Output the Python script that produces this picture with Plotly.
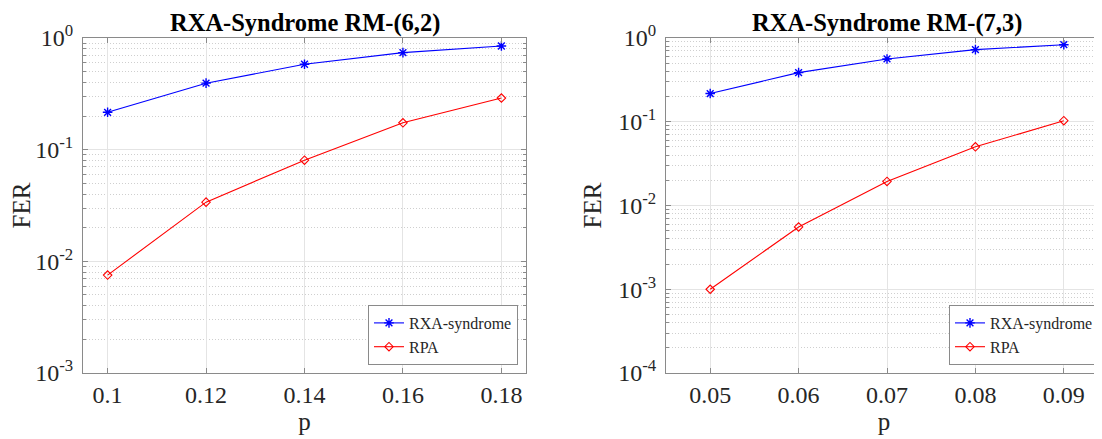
import plotly.graph_objects as go

# ---- data ----
p_left = [0.10, 0.12, 0.14, 0.16, 0.18]
rxa_left = [0.216, 0.394, 0.582, 0.739, 0.848]
rpa_left = [0.00753, 0.0339, 0.0805, 0.174, 0.290]

p_right = [0.05, 0.06, 0.07, 0.08, 0.09]
rxa_right = [0.217, 0.386, 0.562, 0.726, 0.832]
rpa_right = [0.001, 0.00554, 0.0194, 0.0502, 0.103]

title_left = "RXA-Syndrome RM-(6,2)"
title_right = "RXA-Syndrome RM-(7,3)"
series_names = ["RXA-syndrome", "RPA"]
x_title = "p"
y_title = "FER"

ytick_left = [1e-3, 1e-2, 1e-1, 1]
ytick_left_text = ["10<sup>-3</sup>", "10<sup>-2</sup>", "10<sup>-1</sup>", "10<sup>0</sup>"]
ytick_right = [1e-4, 1e-3, 1e-2, 1e-1, 1]
ytick_right_text = ["10<sup>-4</sup>", "10<sup>-3</sup>", "10<sup>-2</sup>", "10<sup>-1</sup>", "10<sup>0</sup>"]

# ---- style ----
OFF = 8                      # page body margin
W, H = 1102 - OFF, 439 - OFF
FONT = "Liberation Serif, Times New Roman, serif"
BLUE = "#0000ff"
RED = "#ff0000"
AXC = "#8a8a8a"
TXT = "#262626"
GRID = "#e4e4e4"
MINOR = "#cfcfcf"


def px(x):
    return (x - OFF) / W


def py(y):
    return 1 - (y - OFF) / H


fig = go.Figure()

for (xs, y1, y2, xa, ya, lg) in [
    (p_left, rxa_left, rpa_left, "x", "y", "legend"),
    (p_right, rxa_right, rpa_right, "x2", "y2", "legend2"),
]:
    fig.add_trace(go.Scatter(
        x=xs, y=y1, mode="lines+markers", name=series_names[0],
        line=dict(color=BLUE, width=1.1),
        marker=dict(symbol="asterisk-open", size=8, color=BLUE,
                    line=dict(color=BLUE, width=1.4)),
        xaxis=xa, yaxis=ya, legend=lg))
    fig.add_trace(go.Scatter(
        x=xs, y=y2, mode="lines+markers", name=series_names[1],
        line=dict(color=RED, width=1.1),
        marker=dict(symbol="diamond-open", size=6.5, color=RED,
                    line=dict(color=RED, width=1.1)),
        xaxis=xa, yaxis=ya, legend=lg))


def minor_vals(lo, hi):
    return [m * 10.0 ** k for k in range(lo, hi) for m in range(2, 10)]


tickfont = dict(family=FONT, size=24, color=TXT)
xcommon = dict(
    ticks="inside", ticklen=5, tickcolor=AXC, showline=True, linecolor=AXC,
    linewidth=1, mirror="ticks", showgrid=True, gridcolor=GRID, gridwidth=1,
    zeroline=False, tickfont=tickfont, automargin=False,
    title=dict(text=x_title, font=dict(family=FONT, size=25, color=TXT), standoff=4),
)
ycommon = dict(
    type="log", ticks="inside", ticklen=5, tickcolor=AXC, showline=True,
    linecolor=AXC, linewidth=1, showgrid=True, gridcolor=GRID, gridwidth=1,
    zeroline=False, tickfont=tickfont, ticklabelstandoff=4, automargin=False,
)

legend_style = dict(bgcolor="white", bordercolor=AXC, borderwidth=1,
                    font=dict(family=FONT, size=16, color=TXT),
                    itemwidth=30, tracegroupgap=0,
                    xanchor="right", yanchor="bottom")

fig.update_layout(
    template="none",
    width=W, height=H,
    margin=dict(l=0, r=0, t=0, b=0, autoexpand=False),
    paper_bgcolor="white", plot_bgcolor="white",
    font=dict(family=FONT, color=TXT),
    xaxis=dict(domain=[px(83), px(526)], anchor="y", range=[0.095, 0.185],
               tickvals=p_left, **xcommon),
    yaxis=dict(domain=[py(373), py(38)], anchor="x", range=[-3, 0],
               tickvals=ytick_left, ticktext=ytick_left_text, mirror="ticks",
               title=dict(text=y_title, font=dict(family=FONT, size=25, color=TXT),
                          standoff=18),
               minor=dict(tickvals=minor_vals(-3, 0), ticks="inside", ticklen=3,
                          tickcolor=AXC, showgrid=True, gridcolor=MINOR,
                          griddash="1px,2px", gridwidth=1),
               **ycommon),
    xaxis2=dict(domain=[px(666), 1.0], anchor="y2", range=[0.045, 0.09432],
                tickvals=p_right, **xcommon),
    yaxis2=dict(domain=[py(373), py(38)], anchor="x2", range=[-4, 0],
                tickvals=ytick_right, ticktext=ytick_right_text, mirror=False,
                title=dict(text=y_title, font=dict(family=FONT, size=25, color=TXT),
                           standoff=9),
                minor=dict(tickvals=minor_vals(-4, 0), ticks="inside", ticklen=3,
                           tickcolor=AXC, showgrid=True, gridcolor=MINOR,
                           griddash="1px,2px", gridwidth=1),
                **ycommon),
    legend=dict(x=px(518), y=py(365), **legend_style),
    legend2=dict(x=px(1099), y=py(365), **legend_style),
    annotations=[
        dict(text="<b>" + title_left + "</b>", x=px(304.5), y=py(23),
             xref="paper", yref="paper", xanchor="center", yanchor="middle",
             showarrow=False, font=dict(family=FONT, size=24.5, color="black")),
        dict(text="<b>" + title_right + "</b>", x=px(886.5), y=py(23),
             xref="paper", yref="paper", xanchor="center", yanchor="middle",
             showarrow=False, font=dict(family=FONT, size=24.5, color="black")),
    ],
)

fig.write_html("out.html")
